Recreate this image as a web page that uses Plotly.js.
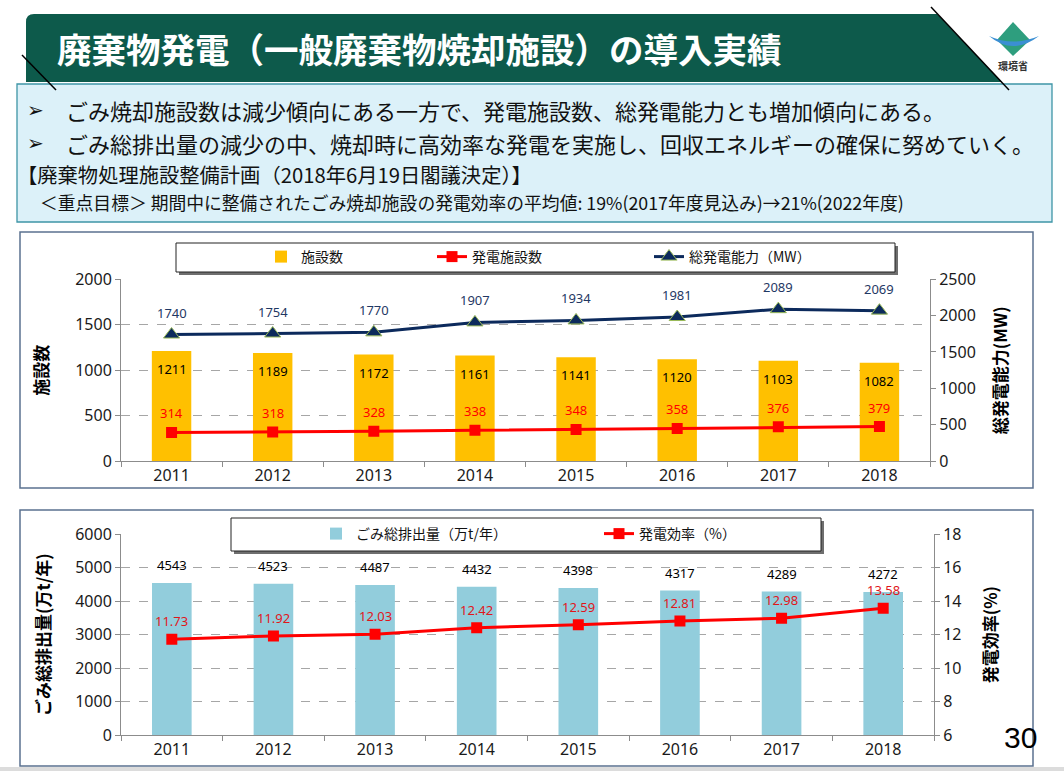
<!DOCTYPE html>
<html><head><meta charset="utf-8">
<script src="https://cdn.plot.ly/plotly-3.0.1.min.js"></script>
<style>html,body{margin:0;padding:0;background:#fff}#chart{width:1064px;height:771px}</style>
</head><body><div id="chart"></div>
<script>
// ---- data ----
const years = ['2011','2012','2013','2014','2015','2016','2017','2018'];
const facilities = [1211,1189,1172,1161,1141,1120,1103,1082];
const powerFacilities = [314,318,328,338,348,358,376,379];
const capacityMW = [1740,1754,1770,1907,1934,1981,2089,2069];
const wasteTotal = [4543,4523,4487,4432,4398,4317,4289,4272];
const efficiency = [11.73,11.92,12.03,12.42,12.59,12.81,12.98,13.58];

const titleText = '廃棄物発電（一般廃棄物焼却施設）の導入実績';
const bullet1 = 'ごみ焼却施設数は減少傾向にある一方で、発電施設数、総発電能力とも増加傾向にある。';
const bullet2 = 'ごみ総排出量の減少の中、焼却時に高効率な発電を実施し、回収エネルギーの確保に努めていく。';
const planText = '【廃棄物処理施設整備計画（2018年6月19日閣議決定）】';
const targetText = '＜重点目標＞ 期間中に整備されたごみ焼却施設の発電効率の平均値: 19%(2017年度見込み)→21%(2022年度)';

// ---- helpers ----
const W = 1064, H = 771;
const px = x => x / W;
const py = y => 1 - y / H;
const JP = '"Noto Sans CJK JP", "Noto Sans", sans-serif';
const NUM = '"Noto Sans", "Open Sans", sans-serif';
function path(pts, close) {
  return pts.map((p, i) => (i ? 'L' : 'M') + px(p[0]).toFixed(5) + ',' + py(p[1]).toFixed(5)).join(' ') + (close ? ' Z' : '');
}
function rect(x0, y0, x1, y1, fill, line, lw, layer) {
  return {type:'rect', xref:'paper', yref:'paper', x0:px(x0), x1:px(x1), y0:py(y1), y1:py(y0),
    fillcolor: fill, line:{color: line || 'rgba(0,0,0,0)', width: lw || 0}, layer: layer || 'below'};
}
function seg(x0, y0, x1, y1, color, w) {
  return {type:'line', xref:'paper', yref:'paper', x0:px(x0), x1:px(x1), y0:py(y0), y1:py(y1),
    line:{color: color, width: w}, layer:'above'};
}

// ---- traces ----
const traces = [
  {type:'bar', x: years, y: facilities, xaxis:'x', yaxis:'y', name:'施設数', legend:'legend',
   marker:{color:'#FFC000'}, width:0.39, hoverinfo:'skip'},
  {type:'scatter', mode:'lines+markers', x: years, y: powerFacilities, xaxis:'x', yaxis:'y',
   name:'発電施設数', legend:'legend2', line:{color:'#FF0000', width:3},
   marker:{symbol:'square', size:11, color:'#FF0000'}, hoverinfo:'skip'},
  {type:'scatter', mode:'lines+markers', x: years, y: capacityMW, xaxis:'x', yaxis:'y2',
   name:'総発電能力（MW）', legend:'legend3', line:{color:'#0C2A5C', width:3},
   marker:{symbol:'triangle-up', size:14, color:'#0C2A5C', line:{color:'#9BBB59', width:1}}, hoverinfo:'skip'},
  {type:'bar', x: years, y: wasteTotal, xaxis:'x2', yaxis:'y3', name:'ごみ総排出量（万t/年）', legend:'legend4',
   marker:{color:'#92CDDC'}, width:0.39, hoverinfo:'skip'},
  {type:'scatter', mode:'lines+markers', x: years, y: efficiency, xaxis:'x2', yaxis:'y4',
   name:'発電効率（%）', legend:'legend5', line:{color:'#FF0000', width:3},
   marker:{symbol:'square', size:11, color:'#FF0000'}, hoverinfo:'skip'}
];

// ---- axes ----
const axLine = '#8c8c8c';
const tickFont = {family: NUM, size: 16, color:'#1a1a1a'};
const titleFont = {family: JP, size: 17, color:'#000', weight: 700};
function xAx(domain, anchor) {
  return {domain: domain, anchor: anchor, type:'category', range:[-0.5, 7.5], showline:true, linecolor:axLine,
    linewidth:1, ticks:'outside', tickson:'boundaries', ticklen:5, tickcolor:axLine, tickfont: tickFont,
    showgrid:false, zeroline:false, fixedrange:true};
}
function yAx(domain, anchor, range, dtick, title, standoff, grid) {
  return {domain: domain, anchor: anchor, range: range, dtick: dtick, showline:true, linecolor:axLine, linewidth:1,
    ticks:'outside', ticklen:5, tickcolor:axLine, tickfont: tickFont, showgrid: grid,
    gridcolor:'#a6a6a6', griddash:'dash', gridwidth:1, zeroline:false, fixedrange:true,
    title:{text: title, font: titleFont, standoff: standoff}};
}
const topX = [px(121), px(930)], topY = [py(461), py(279.3)];
const botX = [px(121), px(934)], botY = [py(735), py(534.3)];

const yaxis2 = yAx(topY, 'x', [0, 2500], 500, '総発電能力(MW)', 20, false);
yaxis2.overlaying = 'y'; yaxis2.side = 'right';
const yaxis4 = yAx(botY, 'x2', [6, 18], 2, '発電効率(%)', 24, false);
yaxis4.overlaying = 'y3'; yaxis4.side = 'right';

// ---- legends ----
function leg(textStartX, yCenter) {
  return {x: px(textStartX - 42), y: py(yCenter), xanchor:'left', yanchor:'middle', orientation:'h',
    bgcolor:'rgba(0,0,0,0)', borderwidth:0, font:{family: JP, size:14, color:'#111'}};
}

// ---- annotations ----
const ann = [];
function label(xref, yref, ys, shift, color, fmt) {
  ys.forEach((v, i) => ann.push({xref: xref, yref: yref, x: i, y: v, text: fmt ? fmt(v) : String(v),
    showarrow:false, yshift: shift, borderpad:0, font:{family: NUM, size:13, color: color}}));
}
label('x', 'y', facilities, -18, '#000');
label('x', 'y', powerFacilities, 19, '#FF0000');
label('x', 'y2', capacityMW, 22, '#1F3864');
label('x2', 'y3', wasteTotal, 18, '#000');
label('x2', 'y4', efficiency, 18, '#E0161B', v => v.toFixed(2));

function txt(x, y, text, size, color, anchor, extra) {
  ann.push(Object.assign({xref:'paper', yref:'paper', x: px(x), y: py(y), text: text, showarrow:false,
    xanchor: anchor || 'left', yanchor:'middle', font:{family: JP, size: size, color: color}}, extra || {}));
}
txt(55, 48, titleText, 34.5, '#FFFFFF', 'left', {font:{family: JP, size:34.5, color:'#fff', weight:700}});
txt(25, 110, '➢', 20, '#111', 'left', {font:{family:'"DejaVu Sans", sans-serif', size:20, color:'#111'}});
txt(25, 143, '➢', 20, '#111', 'left', {font:{family:'"DejaVu Sans", sans-serif', size:20, color:'#111'}});
txt(64, 110, bullet1, 22, '#111');
txt(64, 143, bullet2, 22, '#111');
txt(15, 174, planText, 20.3, '#111');
txt(38, 202, targetText, 17.8, '#111');
txt(1013, 65, '環境省', 10, '#333', 'center', {font:{family: JP, size:10, color:'#333', weight:700}});
txt(1020, 737, '30', 30, '#000', 'center', {font:{family:'"Liberation Sans", Arial, sans-serif', size:30, color:'#000'}});

// ---- shapes ----
const shapes = [
  rect(0, 767, 1064, 771, '#dcdcdc'),
  // header banner
  {type:'path', xref:'paper', yref:'paper', layer:'below', fillcolor:'#0D5A4B', line:{width:0},
   path: 'M' + px(26) + ',' + py(22) + ' Q' + px(26) + ',' + py(14) + ' ' + px(34) + ',' + py(14) + ' ' +
         path([[937,14],[1002,82],[26,82]], true).replace(/^M/, 'L')},
  seg(931, 7, 1009, 90, '#000', 1.5),
  seg(22, 55, 56, 90, '#000', 1.5),
  // logo
  {type:'path', xref:'paper', yref:'paper', layer:'above', fillcolor:'#2E9E7E', line:{width:0},
   path: path([[1013,22],[1030,40],[1013,56],[997,40]], true)},
  {type:'path', xref:'paper', yref:'paper', layer:'above', fillcolor:'#3B8FD3', line:{width:0},
   path: 'M' + px(989) + ',' + py(36) + ' Q' + px(1013) + ',' + py(56) + ' ' + px(1039) + ',' + py(36) +
         ' Q' + px(1013) + ',' + py(47) + ' ' + px(989) + ',' + py(36) + ' Z'},
  // text box
  rect(17, 84, 1052, 222, '#DCF1F9', '#3E95A6', 1.3),
  // chart boxes
  rect(20, 232, 1033, 488, '#FFFFFF', '#5B7190', 1.5),
  rect(20, 510, 1033, 766, '#FFFFFF', '#5B7190', 1.5),
  // legend boxes with shadows
  rect(179, 246, 898, 275, '#6e6e6e', null, 0, 'above'),
  rect(176, 243, 895, 272, '#FFFFFF', '#222', 1, 'above'),
  rect(234, 521, 824, 554, '#6e6e6e', null, 0, 'above'),
  rect(231, 518, 821, 551, '#FFFFFF', '#222', 1, 'above')
];

const layout = {
  width: W, height: H, margin:{l:0, r:0, t:0, b:0}, paper_bgcolor:'#fff', plot_bgcolor:'rgba(0,0,0,0)',
  showlegend: true, barmode:'group',
  xaxis: xAx(topX, 'y'),
  yaxis: yAx(topY, 'x', [0, 2000], 500, '施設数', 22, true),
  yaxis2: yaxis2,
  xaxis2: xAx(botX, 'y3'),
  yaxis3: yAx(botY, 'x2', [0, 6000], 1000, 'ごみ総排出量(万t/年)', 20, true),
  yaxis4: yaxis4,
  legend: leg(303, 257),
  legend2: leg(474, 257),
  legend3: leg(691, 257),
  legend4: leg(358, 534),
  legend5: leg(641, 534),
  annotations: ann,
  shapes: shapes,
  font:{family: JP}
};

Plotly.newPlot('chart', traces, layout, {displayModeBar:false, staticPlot:true});
</script>
</body></html>
